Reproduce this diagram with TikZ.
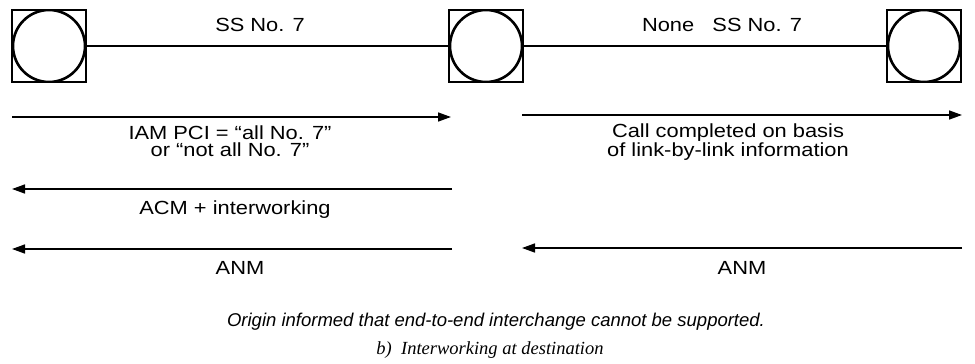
\documentclass[tikz,border=0pt]{standalone}
\usepackage{fontspec}
\setmainfont[FakeStretch=1.15]{Liberation Sans}
\newfontfamily\capsans{Liberation Sans}
\newfontfamily\capserif{Liberation Serif}
\usetikzlibrary{arrows.meta}
\begin{document}
\begin{tikzpicture}[x=1pt,y=-1pt,
  exch/.style={draw, line width=2pt, minimum width=74pt, minimum height=72pt, inner sep=0pt,
    path picture={\draw[line width=2.6pt] (path picture bounding box.center) circle (36pt);}},
  link/.style={line width=1.2pt},
  msg/.style={line width=1.5pt, -{Triangle[length=13pt,width=9pt]}},
  lbl/.style={font=\fontsize{19}{17}\selectfont, inner sep=0pt, align=center},
  captext/.style={inner sep=0pt}]
\useasboundingbox (0,0) rectangle (975,364);
\node[exch] (n1) at (49,46) {};
\node[exch] (n2) at (486,46) {};
\node[exch] (n3) at (924,46) {};
\draw[link] (n1) -- (n2);
\draw[link] (n2) -- (n3);
\node[lbl] (t1) at (260,25) {SS No. 7};
\node[lbl] (t2) at (722,25) {None\ \ \ SS No. 7};
% row 1
\coordinate (a1s) at (12,117); \coordinate (a1e) at (451,117);
\draw[msg] (a1s) -- (a1e);
\node[lbl] (l1) at (230,141) {IAM PCI = “all No. 7”\\or “not all No. 7”};
\coordinate (b1s) at (522,115); \coordinate (b1e) at (962,115);
\draw[msg] (b1s) -- (b1e);
\node[lbl] (l2) at (728,142) {Call completed on basis\\of link-by-link information};
% row 2
\coordinate (a2s) at (452,189); \coordinate (a2e) at (12,189);
\draw[msg] (a2s) -- (a2e);
\node[lbl] (l3) at (235,210) {ACM + interworking};
% row 3
\coordinate (a3s) at (452,249); \coordinate (a3e) at (12,249);
\draw[msg] (a3s) -- (a3e);
\node[lbl] (l4) at (240,268) {ANM};
\coordinate (b3s) at (962,248); \coordinate (b3e) at (522,248);
\draw[msg] (b3s) -- (b3e);
\node[lbl] (l5) at (742,268) {ANM};
% captions
\node[captext, font=\capsans\fontsize{18.5}{22}\selectfont\itshape] (c1) at (496,322) {Origin informed that end-to-end interchange cannot be supported.};
\node[captext, font=\capserif\fontsize{18.5}{22}\selectfont\itshape] (c2) at (490,350) {b)\ \ Interworking at destination};
\end{tikzpicture}
\end{document}
